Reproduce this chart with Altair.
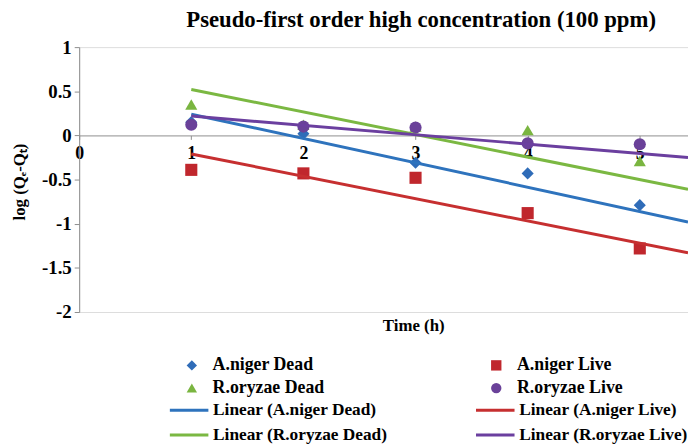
import altair as alt
import pandas as pd

# ---- data ----
time_h = [1, 2, 3, 4, 5]
aniger_dead = [0.15, 0.02, -0.31, -0.43, -0.79]
aniger_live = [-0.39, -0.43, -0.48, -0.88, -1.28]
roryzae_dead = [0.35, 0.12, 0.10, 0.06, -0.29]
roryzae_live = [0.12, 0.10, 0.09, -0.09, -0.10]

# legend order (column-major in a 2-column legend)
series_names = ["A.niger Dead", "R.oryzae Dead", "A.niger Live", "R.oryzae Live"]
trend_names = ["Linear (A.niger Dead)", "Linear (R.oryzae Dead)",
               "Linear (A.niger Live)", "Linear (R.oryzae Live)"]

# trendline end points (at x=1 and at the right edge of the visible plot)
trend_x = [1, 5.43]
trend_aniger_dead = [0.24, -0.98]
trend_aniger_live = [-0.21, -1.33]
trend_roryzae_dead = [0.52, -0.61]
trend_roryzae_live = [0.22, -0.25]

x_ticks = [0, 1, 2, 3, 4, 5]
y_ticks = [1, 0.5, 0, -0.5, -1, -1.5, -2]

point_colors = ["#2f6cb8", "#7ab540", "#c0272d", "#6a4199"]
line_colors = ["#2e73bd", "#7bb842", "#c62f30", "#6b3f9f"]
shapes = ["diamond", "triangle-up", "square", "circle"]

# ---- tables ----
pts = pd.DataFrame({
    "Time": time_h * 4,
    "Value": aniger_dead + aniger_live + roryzae_dead + roryzae_live,
    "Series": sum([[n] * len(time_h) for n in
                   ["A.niger Dead", "A.niger Live", "R.oryzae Dead", "R.oryzae Live"]], []),
})
lines = pd.DataFrame({
    "Time": trend_x * 4,
    "Value": trend_aniger_dead + trend_aniger_live + trend_roryzae_dead + trend_roryzae_live,
    "Trend": sum([[n] * len(trend_x) for n in
                  ["Linear (A.niger Dead)", "Linear (A.niger Live)",
                   "Linear (R.oryzae Dead)", "Linear (R.oryzae Live)"]], []),
})

FONT = "Liberation Serif"
W, H = 616, 268

x_scale = alt.Scale(domain=[0, 5.43], nice=False, zero=False)
y_scale = alt.Scale(domain=[-2, 1], nice=False)

x_axis = alt.Axis(
    values=x_ticks, offset=-178.67, grid=False, tickSize=4, labelPadding=5,
    domainColor="#8e8e8e", tickColor="#8e8e8e", labelFlush=False,
    labelExpr="datum.value + ''",
    labelFont=FONT, labelFontWeight="bold", labelFontSize=18, labelColor="black",
    title="Time (h)", titleFont=FONT, titleFontWeight="bold", titleFontSize=17,
    titleColor="black", titleX=338, titleY=192, titleBaseline="middle",
)
y_axis = alt.Axis(
    values=y_ticks, grid=False, tickSize=5, labelPadding=3,
    domainColor="#8e8e8e", tickColor="#8e8e8e", labelExpr="datum.value + ''",
    labelFont=FONT, labelFontWeight="bold", labelFontSize=19, labelColor="black",
    title="log (Qₑ-Qₜ)", titleFont=FONT, titleFontWeight="bold", titleFontSize=17,
    titleColor="black", titleX=-60, titleY=136, titleAngle=-90,
    titleAlign="center", titleBaseline="middle",
)

points = alt.Chart(pts).mark_point(filled=True, opacity=1, size=150).encode(
    x=alt.X("Time:Q", scale=x_scale, axis=x_axis),
    y=alt.Y("Value:Q", scale=y_scale, axis=y_axis),
    color=alt.Color("Series:N", scale=alt.Scale(domain=series_names, range=point_colors),
                    legend=alt.Legend(
                        title=None, orient="none", legendX=105, legendY=313,
                        columns=2, columnPadding=165, rowPadding=5, padding=0,
                        symbolSize=110, labelOffset=12,
                        labelFont=FONT, labelFontWeight="bold", labelFontSize=18,
                        labelColor="black", labelLimit=400)),
    shape=alt.Shape("Series:N", scale=alt.Scale(domain=series_names, range=shapes)),
)

trend = alt.Chart(lines).mark_line(strokeWidth=3, clip=True).encode(
    x=alt.X("Time:Q", scale=x_scale),
    y=alt.Y("Value:Q", scale=y_scale),
    stroke=alt.Stroke("Trend:N", scale=alt.Scale(domain=trend_names, range=line_colors),
                      legend=alt.Legend(
                          title=None, orient="none", legendX=99.75, legendY=356,
                          columns=2, columnPadding=82.75, rowPadding=5, padding=0,
                          symbolType="M-2,0H2", symbolSize=380, symbolStrokeWidth=3,
                          labelOffset=12.75,
                          labelFont=FONT, labelFontWeight="bold", labelFontSize=17.5,
                          labelColor="black", labelLimit=400)),
    detail="Trend:N",
)

chart = alt.layer(points, trend).properties(
    width=W, height=H,
    title=alt.TitleParams(
        "Pseudo-first order high concentration (100 ppm)",
        font=FONT, fontWeight="bold", fontSize=23, color="black", dx=38, dy=-2,
    ),
    autosize=alt.AutoSizeParams(type="none"),
    padding={"left": 72, "top": 37, "right": 0, "bottom": 134},
).configure_view(stroke=None).configure(background="white")

chart.save("out.html", embed_options={"renderer": "svg", "actions": False})
